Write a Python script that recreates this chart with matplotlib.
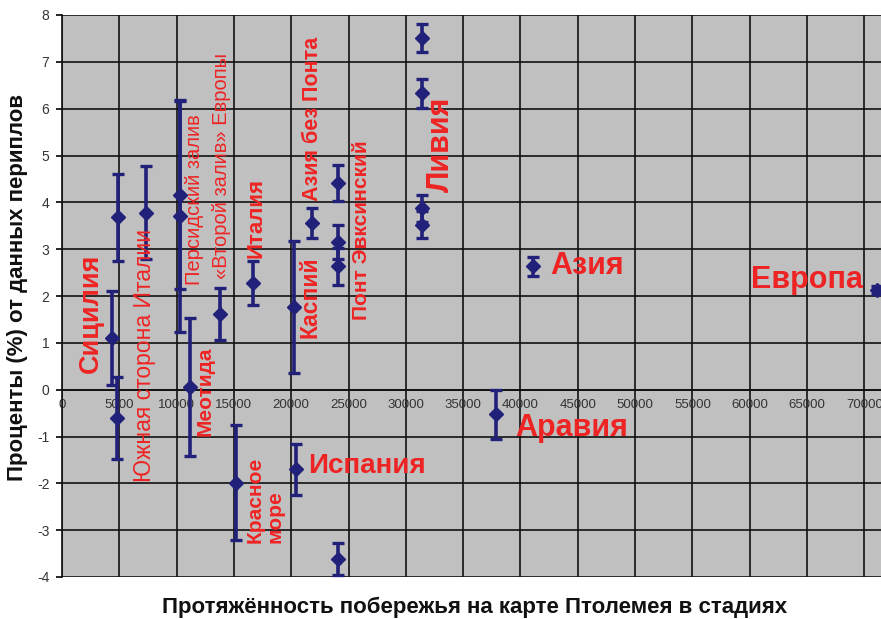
import matplotlib
matplotlib.use('Agg')
import matplotlib.pyplot as plt

plt.rcParams['font.family'] = ['Liberation Sans', 'DejaVu Sans']
plt.rcParams['axes.unicode_minus'] = False

# ---- data ----
coast_stadia = [4340, 4770, 4910, 7330, 10300, 10300, 11170, 13790, 15160, 16690,
                20240, 20390, 21790, 24060, 24060, 24060, 24110,
                31390, 31390, 31390, 31390, 37840, 41070, 71080]
percent_diff = [1.11, -0.60, 3.68, 3.78, 4.16, 3.71, 0.06, 1.61, -1.99, 2.28,
                1.77, -1.70, 3.55, 4.41, 3.16, 2.63, -3.62,
                7.50, 6.33, 3.87, 3.52, -0.53, 2.63, 2.13]
percent_err = [1.00, 0.88, 0.93, 1.00, 2.00, 2.48, 1.48, 0.56, 1.23, 0.47,
               1.41, 0.54, 0.32, 0.39, 0.36, 0.39, 0.34,
               0.30, 0.31, 0.28, 0.29, 0.53, 0.20, 0.08]

x_ticks = list(range(0, 70001, 5000))
y_ticks = list(range(-4, 9))

region_names = ["Сицилия", "Южная сторона Италии", "Персидский залив",
                "«Второй залив» Европы", "Италия", "Меотида", "Каспий",
                "Азия без Понта", "Понт Эвксинский", "Ливия", "Азия", "Аравия",
                "Европа", "Испания", "Красное\nморе"]

# label placement (x, y, size, rotation, weight, ha, va)
label_style = [
    (2530, 1.64, 19.5, 90, 'bold', 'center', 'center'),
    (7240, 0.74, 16.5, 90, 'normal', 'center', 'center'),
    (11520, 4.05, 14.5, 90, 'normal', 'center', 'center'),
    (13920, 4.77, 14.5, 90, 'normal', 'center', 'center'),
    (16930, 3.66, 16, 90, 'bold', 'center', 'center'),
    (12480, -0.04, 15, 90, 'bold', 'center', 'center'),
    (21640, 1.97, 16.5, 90, 'bold', 'center', 'center'),
    (21900, 5.79, 15.5, 90, 'bold', 'center', 'center'),
    (26090, 3.41, 15, 90, 'bold', 'center', 'center'),
    (33030, 5.24, 22, 90, 'bold', 'center', 'center'),
    (42580, 2.63, 22, 0, 'bold', 'left', 'center'),
    (39530, -0.82, 22, 0, 'bold', 'left', 'center'),
    (69890, 2.34, 22, 0, 'bold', 'right', 'center'),
    (21460, -1.64, 20, 0, 'bold', 'left', 'center'),
    (17710, -3.27, 15, 90, 'bold', 'center', 'bottom'),
]

navy = '#21217A'
red = '#EE2424'

fig = plt.figure(figsize=(8.81, 6.19), dpi=100)
ax = fig.add_axes([62 / 881, 42 / 619, 819 / 881, 562 / 619])
ax.set_facecolor('#C0C0C0')
ax.set_xlim(0, 71460)
ax.set_ylim(-4, 8)
ax.set_xticks(x_ticks)
ax.set_xticklabels([str(t) for t in x_ticks])
ax.set_yticks(y_ticks)
ax.grid(True, color='#111111', linewidth=1.2)
ax.set_axisbelow(True)
for s in ['top', 'right']:
    ax.spines[s].set_visible(False)
ax.spines['bottom'].set_position(('data', 0))
ax.spines['bottom'].set_color('#111111')
ax.spines['bottom'].set_linewidth(1.2)
ax.spines['left'].set_color('#111111')
ax.spines['left'].set_linewidth(1.2)
ax.tick_params(axis='x', length=0, pad=7, labelsize=9.5, labelcolor='#333333')
ax.tick_params(axis='y', length=4, direction='out', pad=5, labelsize=10,
               labelcolor='#333333', width=1.2)

ax.errorbar(coast_stadia, percent_diff, yerr=percent_err, fmt='D', color=navy,
            ecolor=navy, mec=navy, elinewidth=2.6, capsize=4, capthick=2.4,
            markersize=7, zorder=5)

for name, (lx, ly, fs, rot, wt, ha, va) in zip(region_names, label_style):
    ax.text(lx, ly, name, fontsize=fs, rotation=rot, fontweight=wt, color=red,
            ha=ha, va=va, multialignment='left', linespacing=1.1, zorder=6)

fig.text(18 / 881, 1 - 287 / 619, "Проценты (%) от данных периплов", rotation=90,
         ha='center', va='center', fontsize=16, fontweight='bold', color='#111111')
fig.text(475 / 881, 1 - 607 / 619, "Протяжённость побережья на карте Птолемея в стадиях",
         ha='center', va='center', fontsize=16, fontweight='bold', color='#111111')

fig.savefig('out.png', dpi=100)
